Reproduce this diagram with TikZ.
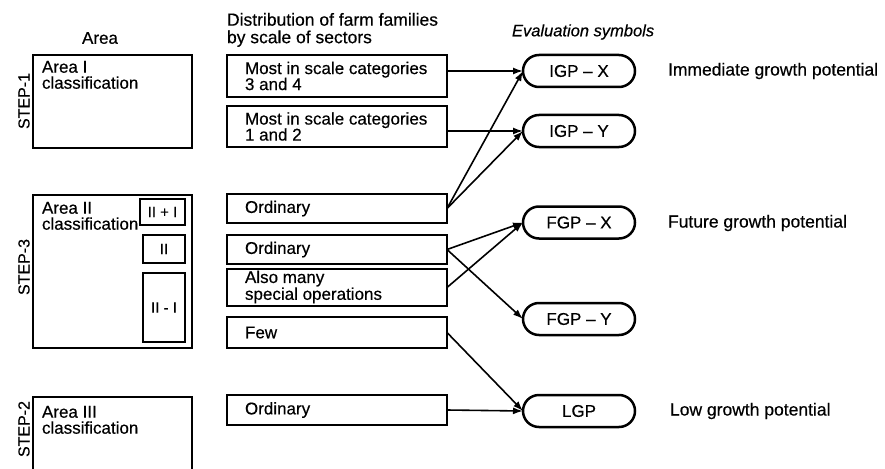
\documentclass[tikz,border=0pt]{standalone}
\usepackage{fontspec}
\setmainfont{Liberation Sans}[FakeBold=0.4]
\usetikzlibrary{shapes.misc,arrows.meta}
\begin{document}
\begin{tikzpicture}[x=1pt,y=-1pt,
  every node/.style={inner sep=0pt, outer sep=0pt},
  txt/.style={font=\fontsize{17}{16}\selectfont, align=left},
  frame/.style={draw, line width=2.5pt},
  areabox/.style={frame, minimum width=159pt},
  secbox/.style={frame, minimum width=220pt},
  subbox/.style={frame, font=\fontsize{15}{15}\selectfont},
  evalbox/.style={frame, rounded rectangle, minimum width=112pt, minimum height=32pt,
                  font=\fontsize{17}{16}\selectfont},
  steplabel/.style={rotate=90, font=\fontsize{16}{16}\selectfont},
  link/.style={line width=1.6pt, -{Latex[length=10pt,width=7pt]}}]

\clip (0,0) rectangle (885,468);
\fill[white] (0,0) rectangle (885,468);

% column headings
\node[txt] (hArea) at (100,38) {Area};
\node[txt, anchor=north west, font=\fontsize{17.5}{17.5}\selectfont] (hDist) at (227,13) {Distribution of farm families\\by scale of sectors};
\node[txt, anchor=west, font=\fontsize{16.5}{16}\selectfont\itshape] (hEval) at (512,32) {Evaluation symbols};

% step labels
\node[steplabel] (s1) at (24,101) {STEP-1};
\node[steplabel] (s3) at (24,267) {STEP-3};
\node[steplabel] (s2) at (24,429) {STEP-2};

% area boxes
\node[areabox, minimum height=93pt] (a1) at (112.5,101.5) {};
\node[txt, anchor=north west] (a1t) at (42,61) {Area I\\classification};
\node[areabox, minimum height=153pt] (a2) at (112.5,271.5) {};
\node[txt, anchor=north west] (a2t) at (42,202) {Area II\\classification};
\node[areabox, minimum height=103pt] (a3) at (112.5,448.5) {};
\node[txt, anchor=north west] (a3t) at (42,406) {Area III\\classification};

% sub-divisions of area II
\node[subbox, minimum width=45pt, minimum height=26pt] (b1) at (162.5,212) {II + I};
\node[subbox, minimum width=42pt, minimum height=28pt] (b2) at (164,249) {II};
\node[subbox, minimum width=42pt, minimum height=69pt] (b3) at (164,307.5) {II - I};

% distribution boxes
\node[secbox, minimum height=42pt] (d1) at (337,76) {};
\node[txt, anchor=west] (d1t) at (245,76) {Most in scale categories\\3 and 4};
\node[secbox, minimum height=41pt] (d2) at (337,126.5) {};
\node[txt, anchor=west] (d2t) at (245,126.5) {Most in scale categories\\1 and 2};
\node[secbox, minimum height=29pt] (d3) at (337,208.5) {};
\node[txt, anchor=west] (d3t) at (245,208.5) {Ordinary};
\node[secbox, minimum height=29pt] (d4) at (337,249.5) {};
\node[txt, anchor=west] (d4t) at (245,249.5) {Ordinary};
\node[secbox, minimum height=37pt] (d5) at (337,287.5) {};
\node[txt, anchor=west, font=\fontsize{17}{13.5}\selectfont] (d5t) at (245,287) {Also many\\special operations};
\node[secbox, minimum height=31pt] (d6) at (337,332.5) {};
\node[txt, anchor=west] (d6t) at (245,332.5) {Few};
\node[secbox, minimum height=30pt] (d7) at (337,410) {};
\node[txt, anchor=west] (d7t) at (245,410) {Ordinary};

% evaluation symbols
\node[evalbox] (e1) at (579,71) {IGP -- X};
\node[evalbox] (e2) at (579,131) {IGP -- Y};
\node[evalbox] (e3) at (579,222.5) {FGP -- X};
\node[evalbox] (e4) at (579,319) {FGP -- Y};
\node[evalbox] (e5) at (579,411) {LGP};

% meanings
\node[txt, anchor=west, font=\fontsize{17.5}{16}\selectfont] (m1) at (668,71) {Immediate growth potential};
\node[txt, anchor=west, font=\fontsize{17.5}{16}\selectfont] (m2) at (668,223) {Future growth potential};
\node[txt, anchor=west, font=\fontsize{17.5}{16}\selectfont] (m3) at (670,411) {Low growth potential};

% connectors
\draw[link] (d1.east |- e1.west) -- (e1.west);
\draw[link] (d2.east |- e2.west) -- (e2.west);
\draw[link] (d3.east) -- (e1.west);
\draw[link] (d3.east) -- (e2.west);
\draw[link] (d4.east) -- (e3.west);
\draw[link] (d4.east) -- (e4.west);
\draw[link] (d5.east) -- (e3.west);
\draw[link] (d6.east) -- (e5.west);
\draw[link] (d7.east) -- (e5.west);
\end{tikzpicture}
\end{document}
